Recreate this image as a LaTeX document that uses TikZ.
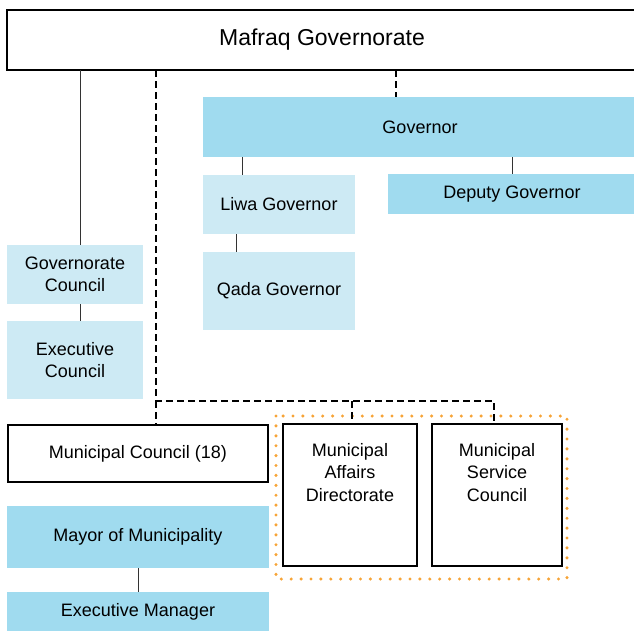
\documentclass[tikz,border=0pt]{standalone}
\usepackage{fontspec}
\setmainfont{Liberation Sans}
\usepackage{xcolor}
\usetikzlibrary{positioning}
\definecolor{bluedark}{HTML}{A0DBEF}
\definecolor{bluelight}{HTML}{CDEAF4}
\definecolor{dotorange}{HTML}{F7A437}
\tikzset{
    unit/.style={rectangle, inner sep=0pt, outer sep=0pt, align=center,
        font=\fontsize{18}{22.5}\selectfont},
    darkunit/.style={unit, fill=bluedark},
    lightunit/.style={unit, fill=bluelight},
    whiteunit/.style={unit, draw=black, line width=2pt, fill=white},
    link/.style={line width=1pt, black!80},
    dashlink/.style={line width=2pt, dash pattern=on 7pt off 4pt},
}

\begin{document}
\begin{tikzpicture}[x=1pt, y=-1pt]
    \useasboundingbox (0,0) rectangle (634,630);

    % orange group round the two tall boxes
    \draw[dotorange, line width=3.4pt, line cap=round, dash pattern=on 0pt off 9.9pt]
        (276,416) rectangle (567,579);

    \node[whiteunit, line width=2.4pt, minimum width=630pt, minimum height=60pt,
          font=\fontsize{23}{26}\selectfont] (gov) at (322,40) {Mafraq Governorate};

    \node[darkunit, minimum width=434pt, minimum height=60pt] (governor) at (420,127) {Governor};
    \node[darkunit, minimum width=248pt, minimum height=40pt] (deputy) at (512,194) {Deputy Governor};
    \node[lightunit, minimum width=152pt, minimum height=59pt] (liwa) at (279,204.5) {Liwa Governor};
    \node[lightunit, minimum width=152pt, minimum height=78pt] (qada) at (279,291) {Qada Governor};

    \node[lightunit, minimum width=136pt, minimum height=59pt] (gcouncil) at (75,274.5) {Governorate\\Council};
    \node[lightunit, minimum width=136pt, minimum height=78pt] (excouncil) at (75,360) {Executive\\Council};

    \node[whiteunit, minimum width=260pt, minimum height=57pt] (mcouncil) at (138,453.5) {Municipal Council (18)};
    \node[darkunit, minimum width=262pt, minimum height=62pt] (mayor) at (138,537) {Mayor of Municipality};
    \node[darkunit, minimum width=262pt, minimum height=40pt] (exmanager) at (138,612) {Executive Manager};

    \node[whiteunit, line width=2.4pt, minimum width=134pt, minimum height=142pt] (mad) at (350,495) {};
    \node[unit, below=19pt of mad.north] (madtext) {Municipal\\Affairs\\Directorate};
    \node[whiteunit, line width=2.4pt, minimum width=130pt, minimum height=142pt] (msc) at (497,495) {};
    \node[unit, below=19pt of msc.north] (msctext) {Municipal\\Service\\Council};

    % solid links
    \coordinate (cx) at (80,0);
    \coordinate (lx) at (242,0);
    \coordinate (qx) at (236,0);
    \draw[link] (gov.south -| cx) -- (gcouncil.north -| cx);
    \draw[link] (gcouncil.south -| cx) -- (excouncil.north -| cx);
    \draw[link] (governor.south -| lx) -- (liwa.north -| lx);
    \draw[link] (liwa.south -| qx) -- (qada.north -| qx);
    \draw[link] (governor.south -| deputy) -- (deputy.north);
    \draw[link] (mayor.south) -- (exmanager.north);

    % dashed links
    \coordinate (gx) at (396,0);
    \coordinate (mx) at (352,0);
    \coordinate (sx) at (494,0);
    \coordinate (split) at (156,401);
    \draw[dashlink] (gov.south -| gx) -- (governor.north -| gx);
    \draw[dashlink] (gov.south -| split) -- (split) -| (msc.north -| sx);
    \draw[dashlink] (split) -- (split |- mcouncil.north);
    \draw[dashlink] (split -| mx) -- (mad.north -| mx);
\end{tikzpicture}
\end{document}
